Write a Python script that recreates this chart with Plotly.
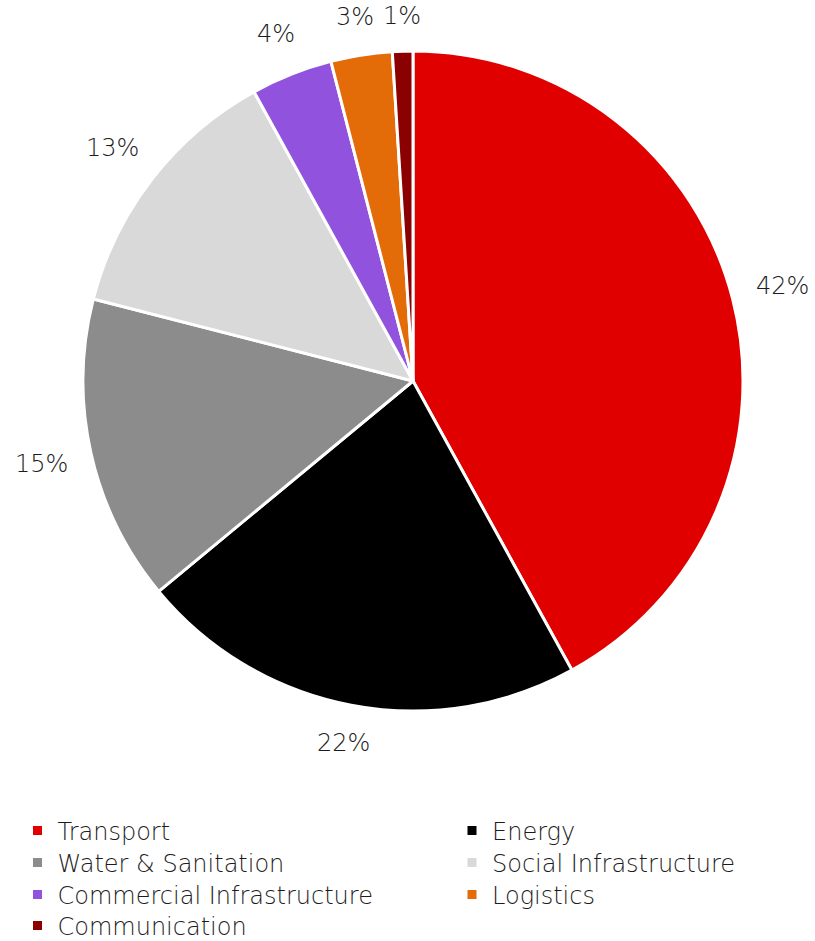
import math
import plotly.graph_objects as go

# Share of infrastructure investment by sector (%)
sectors = [
    "Transport",
    "Energy",
    "Water & Sanitation",
    "Social Infrastructure",
    "Commercial Infrastructure",
    "Logistics",
    "Communication",
]
shares = [42, 22, 15, 13, 4, 3, 1]
colors = ["#E00000", "#000000", "#8C8C8C", "#D9D9D9", "#9152DE", "#E36C09", "#8B0000"]

W, H = 815, 941
cx, cy, r = 413, 381, 330
FONT = dict(family="DejaVu Sans", size=24, color="#1c1c1c", weight=300)

# Legend grid: two columns, rows about 32 px apart
col_x = [17.5, 452]
row_y = [831, 863, 895, 926]

fig = go.Figure()
fig.add_trace(
    go.Pie(
        labels=sectors,
        values=shares,
        sort=False,
        direction="clockwise",
        rotation=0,
        marker=dict(colors=colors, line=dict(color="white", width=3)),
        textinfo="none",
        hoverinfo="label+percent",
        showlegend=False,
        domain=dict(
            x=[(cx - r) / W, (cx + r) / W],
            y=[1 - (cy + r) / H, 1 - (cy - r) / H],
        ),
    )
)

legends = {}
for i, (name, col) in enumerate(zip(sectors, colors)):
    key = "legend" if i == 0 else f"legend{i + 1}"
    fig.add_trace(
        go.Scatter(
            x=[None],
            y=[None],
            mode="markers",
            name=name,
            marker=dict(symbol="square", size=9, color=col),
            legend=key,
            hoverinfo="skip",
        )
    )
    legends[key] = dict(
        orientation="v",
        x=col_x[i % 2] / W,
        xanchor="left",
        y=1 - row_y[i // 2] / H,
        yanchor="middle",
        itemwidth=30,
        bgcolor="rgba(0,0,0,0)",
        font=FONT,
    )

# Percentage labels placed just outside each slice, at the slice's mid angle
total = sum(shares)
cum = 0.0
annotations = []
for v in shares:
    mid = (cum + v / 2) / total * 2 * math.pi
    cum += v
    s, c = math.sin(mid), math.cos(mid)
    d = r + 22 + abs(s) * 27 + abs(c) * 12
    annotations.append(
        dict(
            x=(cx + d * s) / W,
            y=1 - (cy - d * c) / H,
            xref="paper",
            yref="paper",
            text=f"{round(v / total * 100)}%",
            showarrow=False,
            xanchor="center",
            yanchor="middle",
            font=FONT,
        )
    )

fig.update_layout(
    width=W,
    height=H,
    margin=dict(l=0, r=0, t=0, b=0, autoexpand=False),
    paper_bgcolor="white",
    plot_bgcolor="white",
    font=FONT,
    annotations=annotations,
    xaxis=dict(visible=False),
    yaxis=dict(visible=False),
    **legends,
)

fig.write_html("out.html")
